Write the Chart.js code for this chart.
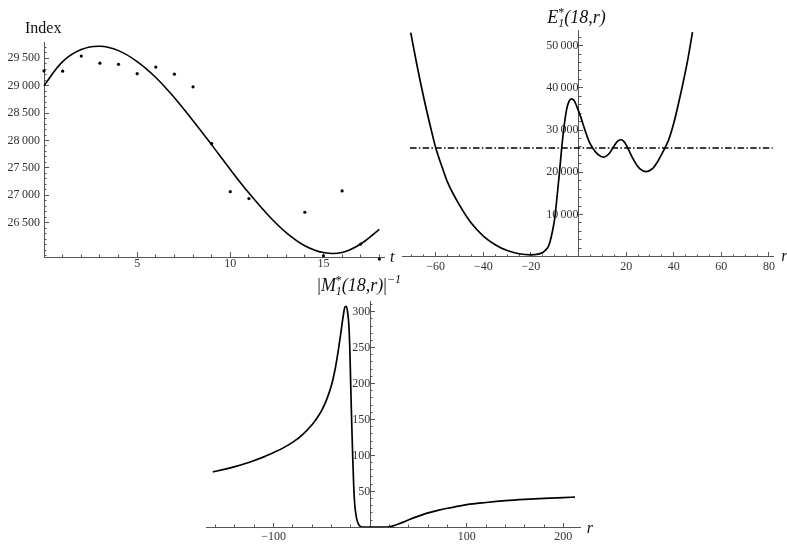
<!DOCTYPE html>
<html>
<head>
<meta charset="utf-8">
<title>Index fit, E and M plots</title>
<script src="https://cdn.jsdelivr.net/npm/chart.js@4.4.1/dist/chart.umd.min.js"></script>
<style>
  body { margin: 0; background: #fff; }
  #wrap { position: relative; width: 787px; height: 546px; overflow: hidden; }
  canvas { position: absolute; }
</style>
</head>
<body>
<div id="wrap">
  <canvas id="idx" width="400" height="275" style="left:0;top:0"></canvas>
  <canvas id="eplot" width="407" height="280" style="left:380px;top:0"></canvas>
  <canvas id="mplot" width="420" height="276" style="left:190px;top:270px"></canvas>
</div>
<script>
// top left: index values (dots) and the fitted curve
var idxT   = [0, 1, 2, 3, 4, 5, 6, 7, 8, 9, 10, 11, 14, 15, 16, 17, 18];
var idxVal = [29270, 29265, 29540, 29410, 29390, 29220, 29340, 29210, 28980, 27945, 27065, 26940, 26690, 25895, 27080, 26110, 25835];
var fitT   = [0, 1, 2, 3, 4, 5, 6, 7, 8, 9, 10, 11, 12, 13, 14, 15, 16, 17, 18];
var fitVal = [29000, 29440, 29660, 29720, 29640, 29440, 29150, 28780, 28360, 27920, 27470, 27040, 26650, 26320, 26080, 25955, 25955, 26110, 26380];
var idxXTicks = [5, 10, 15];
var idxYTicks = [26500, 27000, 27500, 28000, 28500, 29000, 29500];

// top right: E*_1(18,r) and the dash-dot level
var eR   = [-70.5, -68, -65, -62, -60, -57, -55, -50, -45, -40, -35, -30, -25, -20, -17, -15, -14, -13, -12, -11,
            -10, -9, -8, -7, -6, -5, -4, -3, -2, -1, 0, 1, 2, 3, 4.5, 6, 8, 10.5, 13, 15,
            16.5, 18, 19, 20, 22, 24, 25.6, 27, 28.4, 30, 31.2, 33, 34, 36, 38, 40, 42, 44, 46, 47.9];
var eVal = [53100, 45700, 37600, 30300, 25800, 20700, 17600, 12200, 7900, 4900, 2850, 1450, 700, 450, 600, 1000, 1500, 2100, 3500, 5900,
            9100, 14300, 20000, 26200, 31200, 34900, 36800, 37400, 37100, 36000, 34500, 33000, 31200, 29500, 27200, 25700, 24300, 23600, 24500, 26300,
            27400, 27700, 27300, 26500, 24200, 22100, 20900, 20350, 20150, 20450, 20900, 22300, 23300, 25400, 27900, 31600, 36300, 41400, 47000, 53200];
var levelR   = [-70.8, 81.6];
var levelVal = [25750, 25750];
var eXTicks = [-60, -40, -20, 20, 40, 60, 80];
var eYTicks = [10000, 20000, 30000, 40000, 50000];

// bottom: |M*_1(18,r)|^-1
var mR   = [-163, -150, -140, -130, -120, -110, -100, -90, -80, -70, -60, -55, -50, -45, -40, -36, -33, -30, -28, -26,
            -24.5, -23, -22, -21, -20, -19, -18, -17, -16, -15, -14, -12, -10, -5, 0, 10, 20, 25, 30, 35,
            40, 50, 60, 70, 80, 90, 100, 120, 140, 160, 180, 200, 212];
var mVal = [77, 81, 84.5, 88.5, 93, 98, 104, 110.5, 118.5, 129, 143, 152, 163, 178, 198, 222, 246, 274, 293, 307,
            307, 295, 280, 245, 190, 140, 95, 56, 32, 20, 12, 4, 1.2, 0.3, 0.2, 0.3, 0.8, 2.5, 5, 7.5,
            10.5, 15.5, 20, 23.5, 26.5, 29, 31.5, 34.5, 37, 38.8, 40.2, 41.4, 42];
var mXTicks = [-100, 100, 200];
var mYTicks = [50, 100, 150, 200, 250, 300];

var FONT = 'Liberation Serif';
var AX = '#555';
var LBL = '#333';

function pts(xs, ys) {
  return xs.map(function (x, i) { return { x: x, y: ys[i] }; });
}

// minor tick positions only
function range(a, b, step) {
  var out = [];
  for (var v = a; v <= b + 1e-9; v += step) out.push(v);
  return out;
}

function fmt(v) {
  var a = Math.abs(v), s = String(a);
  if (a >= 10000) s = s.slice(0, -3) + '\u2009' + s.slice(-3);
  return (v < 0 ? '\u2212' : '') + s;
}

// one axis: fixed box size, ticks taken from a list
function axis(pos, min, max, ticks, len, pad, labelled, size) {
  return {
    type: 'linear', position: pos, min: min, max: max,
    afterFit: function (s) {
      if (s.isHorizontal()) s.height = size; else s.width = size;
      s.paddingLeft = s.paddingRight = s.paddingTop = s.paddingBottom = 0;
    },
    afterBuildTicks: function (s) {
      s.ticks = ticks.map(function (v) { return { value: v }; });
    },
    border: { display: labelled, color: AX, width: 1 },
    grid: { drawOnChartArea: false, drawTicks: true, tickLength: -len, tickColor: AX, tickWidth: 1 },
    ticks: {
      autoSkip: false, maxRotation: 0, padding: pad, color: LBL, font: { family: FONT, size: 12 },
      callback: function (v) { return labelled ? fmt(v) : ''; }
    }
  };
}

// text made of pieces: [text, size, style, dy, noAdvance]
function drawRich(ctx, parts, x, y, center) {
  var w = 0;
  parts.forEach(function (p) {
    ctx.font = p[2] + ' ' + p[1] + 'px "' + FONT + '"';
    p.w = ctx.measureText(p[0]).width;
    if (!p[4]) w += p.w;
  });
  var cx = center ? x - w / 2 : x;
  ctx.save();
  ctx.fillStyle = '#111';
  ctx.textAlign = 'left';
  ctx.textBaseline = 'alphabetic';
  parts.forEach(function (p) {
    ctx.font = p[2] + ' ' + p[1] + 'px "' + FONT + '"';
    ctx.fillText(p[0], cx, y + (p[3] || 0));
    if (!p[4]) cx += p.w;
  });
  ctx.restore();
}

function baseOptions(pad) {
  return {
    responsive: false,
    animation: false,
    layout: { padding: pad, autoPadding: false },
    plugins: { legend: { display: false }, tooltip: { enabled: false } },
    elements: { point: { radius: 0 } }
  };
}

// ---- top left
var o1 = baseOptions({ left: 0, right: 16, top: 42.4, bottom: 0 });
o1.scales = {
  x: axis('bottom', 0, 18.25, idxXTicks, 5, 4.1, true, 17.8),
  xm: axis({ y: 25870 }, 0, 18.25, range(1, 18, 1), 2.5, 0, false, 0),
  y: axis('left', 25870, 29790, idxYTicks, 5, 9, true, 44),
  ym: axis({ x: 0 }, 25870, 29790, range(25900, 29700, 100), 2.5, 0, false, 0)
};
new Chart(document.getElementById('idx'), {
  type: 'line',
  data: {
    datasets: [{
      data: pts(fitT, fitVal), borderColor: '#000', borderWidth: 1.6,
      tension: 0.4, fill: false, clip: false
    }, {
      data: pts(idxT, idxVal), showLine: false, pointRadius: 1.6, pointBackgroundColor: '#000',
      pointBorderWidth: 0, clip: false
    }]
  },
  options: o1,
  plugins: [{
    id: 'labels1',
    afterDraw: function (c) {
      var a = c.chartArea;
      drawRich(c.ctx, [['Index', 16, 'normal']], 25, 33, false);
      drawRich(c.ctx, [['t', 16, 'italic']], a.right + 6, a.bottom + 4.5, false);
    }
  }]
});

// ---- top right
var o2 = baseOptions({ left: 22.4, right: 13.3, top: 30, bottom: 23.3 });
o2.scales = {
  x: axis({ y: 0 }, -74, 82, eXTicks, 5, 8, true, 0),
  xm: axis({ y: 0 }, -74, 82, range(-70, 80, 5), 2.5, 0, false, 0),
  y: axis({ x: 0 }, 0, 53700, eYTicks, 5, 0, true, 0),
  ym: axis({ x: 0 }, 0, 53700, range(2000, 52000, 2000), 2.5, 0, false, 0)
};
new Chart(document.getElementById('eplot'), {
  type: 'line',
  data: {
    datasets: [{
      data: pts(eR, eVal), borderColor: '#000', borderWidth: 1.7,
      cubicInterpolationMode: 'monotone', fill: false
    }, {
      data: pts(levelR, levelVal), borderColor: '#000', borderWidth: 1.4,
      borderDash: [6.5, 2.3, 1.5, 2.3], fill: false
    }]
  },
  options: o2,
  plugins: [{
    id: 'labels2',
    afterDraw: function (c) {
      var a = c.chartArea, x0 = c.scales.x.getPixelForValue(0);
      drawRich(c.ctx, [['E', 18, 'italic'], ['*', 12, 'normal', -7, true], ['1', 12, 'italic', 3.5], ['(18,r)', 18, 'italic']], x0 - 2, 23, true);
      drawRich(c.ctx, [['r', 16, 'italic']], a.right + 7.5, a.bottom + 4.5, false);
    }
  }]
});

// ---- bottom
var o3 = baseOptions({ left: 16, right: 29.3, top: 31.6, bottom: 18.7 });
o3.scales = {
  x: axis({ y: 0 }, -170, 218, mXTicks, 5, 7, true, 0),
  xm: axis({ y: 0 }, -170, 218, range(-160, 200, 20), 2.5, 0, false, 0),
  y: axis({ x: 0 }, 0, 314, mYTicks, 5, 0, true, 0),
  ym: axis({ x: 0 }, 0, 314, range(10, 310, 10), 2.5, 0, false, 0)
};
new Chart(document.getElementById('mplot'), {
  type: 'line',
  data: {
    datasets: [{
      data: pts(mR, mVal), borderColor: '#000', borderWidth: 1.7,
      cubicInterpolationMode: 'monotone', fill: false
    }]
  },
  options: o3,
  plugins: [{
    id: 'labels3',
    afterDraw: function (c) {
      var a = c.chartArea, x0 = c.scales.x.getPixelForValue(0);
      drawRich(c.ctx, [['|', 18, 'normal'], ['M', 18, 'italic'], ['*', 12, 'normal', -7, true], ['1', 12, 'italic', 3.5],
                       ['(18,r)', 18, 'italic'], ['|', 18, 'normal'], ['\u22121', 12, 'italic', -8]], x0 - 11, 21, true);
      drawRich(c.ctx, [['r', 16, 'italic']], a.right + 6, a.bottom + 5.5, false);
    }
  }]
});
</script>
</body>
</html>
